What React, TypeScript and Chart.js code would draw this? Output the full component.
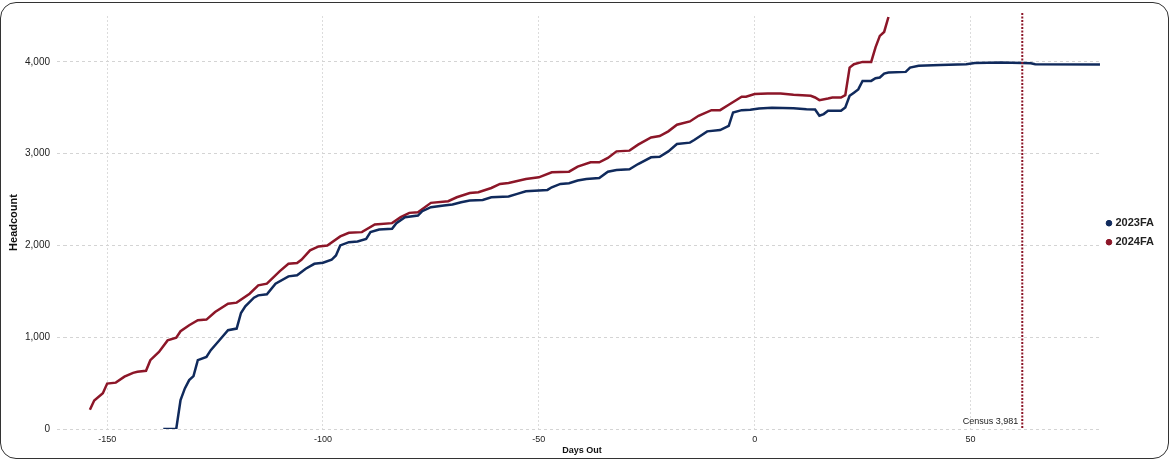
import React, { useEffect, useRef } from "react";
import { Chart, registerables } from "chart.js";

Chart.register(...registerables);

// ---- Data ----
const SERIES_LABELS = ["2023FA", "2024FA"];

const DAYS_2023 = [
  -137, -134, -133, -132, -131, -130, -129, -127, -126, -124, -122, -120, -119, -118, -116, -115, -113, -111,
  -108, -106, -104, -102, -100, -98, -97, -96, -94, -92, -90, -89, -87, -84, -83, -81, -78, -77, -75, -72, -70,
  -68, -66, -63, -61, -57, -55, -53, -48, -47, -45, -43, -41, -39, -36, -34, -32, -29, -27, -24, -22, -20, -18,
  -15, -14, -11, -8, -6, -5, -3, -1, 1, 4, 9, 12, 14, 15, 16, 17, 20, 21, 22, 23, 24, 25, 27, 28, 29, 30, 31,
  35, 36, 38, 43, 49, 51, 57, 62, 64, 65, 80,
];
const HEADCOUNT_2023 = [
  0, 0, 315, 442, 533, 576, 750, 786, 859, 967, 1076, 1094, 1264, 1337, 1431, 1456, 1467, 1583,
  1663, 1674, 1746, 1800, 1811, 1844, 1891, 2000, 2036, 2043, 2072, 2145, 2174, 2181, 2243, 2308, 2326, 2373, 2417, 2435, 2446,
  2471, 2489, 2496, 2525, 2533, 2562, 2591, 2605, 2634, 2670, 2678, 2707, 2724, 2735, 2804, 2822, 2829, 2887, 2960, 2967, 3025, 3105,
  3120, 3149, 3243, 3257, 3304, 3449, 3474, 3478, 3493, 3500, 3496, 3485, 3482, 3413, 3431, 3467, 3467, 3504, 3630, 3665, 3700, 3793, 3793, 3822, 3830, 3873, 3884,
  3891, 3938, 3957, 3967, 3975, 3989, 3993, 3989, 3986, 3975, 3971,
];

const DAYS_2024 = [
  -154, -153, -151, -150, -148, -146, -144, -143, -141, -140, -138, -136, -134, -133, -131, -129, -127, -125,
  -122, -120, -117, -115, -113, -110, -108, -106, -105, -103, -101, -99, -96, -94, -91, -88, -84, -82, -80, -78,
  -75, -71, -69, -66, -64, -61, -59, -57, -53, -50, -47, -43, -41, -38, -36, -34, -32, -29, -27, -24, -22, -20,
  -18, -15, -13, -10, -8, -6, -3, -2, 0, 3, 6, 9, 13, 14, 15, 17, 18, 20, 21, 22, 23, 25, 27, 28, 29, 30, 31,
];
const HEADCOUNT_2024 = [
  210, 310, 390, 495, 505, 570, 612, 623, 634, 750, 840, 965, 996, 1065, 1130, 1185, 1192, 1275,
  1365, 1377, 1474, 1565, 1583, 1720, 1800, 1808, 1844, 1946, 1989, 2000, 2098, 2138, 2145, 2228, 2243, 2308, 2355, 2362,
  2464, 2482, 2525, 2572, 2579, 2626, 2670, 2681, 2724, 2742, 2797, 2804, 2859, 2906, 2906, 2953, 3025, 3033, 3098, 3177, 3192, 3243,
  3315, 3351, 3413, 3474, 3474, 3533, 3620, 3620, 3649, 3656, 3656, 3641, 3630, 3612, 3583, 3601, 3612, 3612, 3637, 3938, 3975, 4000, 4000, 4159, 4283, 4326, 4489,
];

const X_TICKS = [-150, -100, -50, 0, 50];
const Y_TICKS = [0, 1000, 2000, 3000, 4000];
const X_MIN = -160;
const X_MAX = 80;
const Y_MIN = 0;
const Y_MAX = 4500;

const CENSUS_DAY = 62;
const CENSUS_LABEL = "Census 3,981";

const NAVY = "#102a5c";
const RED = "#8c1628";
const FONT = "'Liberation Sans', Arial, sans-serif";

const censusPlugin = {
  id: "census",
  afterDatasetsDraw(chart: any) {
    const { ctx, chartArea, scales } = chart;
    const x = scales.x.getPixelForValue(CENSUS_DAY);
    ctx.save();
    ctx.strokeStyle = RED;
    ctx.lineWidth = 2;
    ctx.setLineDash([2, 1.5]);
    ctx.beginPath();
    ctx.moveTo(x, chartArea.top - 3);
    ctx.lineTo(x, chartArea.bottom - 1);
    ctx.stroke();
    ctx.setLineDash([]);
    ctx.font = `9px ${FONT}`;
    ctx.fillStyle = "#222";
    ctx.textAlign = "right";
    ctx.textBaseline = "middle";
    ctx.fillText(CENSUS_LABEL, x - 4, chartArea.bottom - 7);
    ctx.restore();
  },
};

function toPoints(xs: number[], ys: number[]) {
  return xs.map((x, i) => ({ x, y: ys[i] }));
}

export default function App() {
  const canvasRef = useRef<HTMLCanvasElement | null>(null);

  useEffect(() => {
    document.body.style.margin = "0";
    const canvas = canvasRef.current;
    if (!canvas) return;
    const chart = new Chart(canvas, {
      type: "line",
      data: {
        datasets: [
          {
            label: SERIES_LABELS[0],
            data: toPoints(DAYS_2023, HEADCOUNT_2023),
            borderColor: NAVY,
            backgroundColor: NAVY,
            borderWidth: 2.5,
            pointRadius: 0,
            tension: 0,
          },
          {
            label: SERIES_LABELS[1],
            data: toPoints(DAYS_2024, HEADCOUNT_2024),
            borderColor: RED,
            backgroundColor: RED,
            borderWidth: 2.5,
            pointRadius: 0,
            tension: 0,
          },
        ],
      },
      options: {
        responsive: false,
        animation: false,
        layout: { padding: { top: 12, left: 0, bottom: 0, right: 4 } },
        plugins: {
          legend: {
            position: "right",
            align: "center",
            fullSize: false,
            title: {
              display: true,
              text: " ",
              font: { family: FONT, size: 12 },
              padding: { top: 3, bottom: 3 },
            },
            labels: {
              usePointStyle: true,
              pointStyle: "circle",
              boxWidth: 2,
              boxHeight: 4,
              padding: 8,
              color: "#222",
              font: { family: FONT, size: 11, weight: "bold" },
              generateLabels: (chart: any) =>
                Chart.defaults.plugins.legend.labels
                  .generateLabels(chart)
                  .map((l: any) => ({ ...l, lineWidth: 1 })),
            },
          },
          tooltip: { enabled: false },
        },
        scales: {
          x: {
            type: "linear",
            min: X_MIN,
            max: X_MAX,
            afterBuildTicks: (scale: any) => {
              scale.ticks = X_TICKS.map((v) => ({ value: v }));
            },
            afterFit: (scale: any) => {
              scale.height = 29;
            },
            ticks: {
              color: "#222",
              padding: 5,
              maxRotation: 0,
              font: { family: FONT, size: 9 },
              callback: (v: any) => String(v),
            },
            grid: { color: "#dcdcdc", drawTicks: false, lineWidth: 1 },
            border: { display: false, dash: [2, 2] },
            title: {
              display: true,
              text: "Days Out",
              color: "#111",
              font: { family: FONT, size: 9, weight: "bold" },
              padding: { top: 0, bottom: 2 },
            },
          },
          y: {
            type: "linear",
            min: Y_MIN,
            max: Y_MAX,
            afterBuildTicks: (scale: any) => {
              scale.ticks = Y_TICKS.map((v) => ({ value: v }));
            },
            afterFit: (scale: any) => {
              scale.width = 63;
            },
            ticks: {
              color: "#222",
              padding: 7,
              font: { family: FONT, size: 10 },
              callback: (v: any) => Number(v).toLocaleString("en-US"),
            },
            grid: {
              color: "#d4d4d4",
              lineWidth: 1,
              drawTicks: true,
              tickLength: 7,
              tickColor: "#d4d4d4",
              tickBorderDash: [3, 3],
            },
            border: { display: false, dash: [3, 3] },
            title: {
              display: true,
              text: "Headcount",
              color: "#111",
              font: { family: FONT, size: 11, weight: "bold" },
              padding: { top: 6, bottom: 0 },
            },
          },
        },
      },
      plugins: [censusPlugin],
    });
    return () => chart.destroy();
  }, []);

  return (
    <div
      style={{
        width: 1169,
        height: 457,
        marginTop: 2,
        border: "1px solid #333",
        borderRadius: 16,
        boxSizing: "border-box",
        overflow: "hidden",
        background: "#fff",
      }}
    >
      <canvas ref={canvasRef} width={1167} height={455} style={{ display: "block" }} />
    </div>
  );
}
